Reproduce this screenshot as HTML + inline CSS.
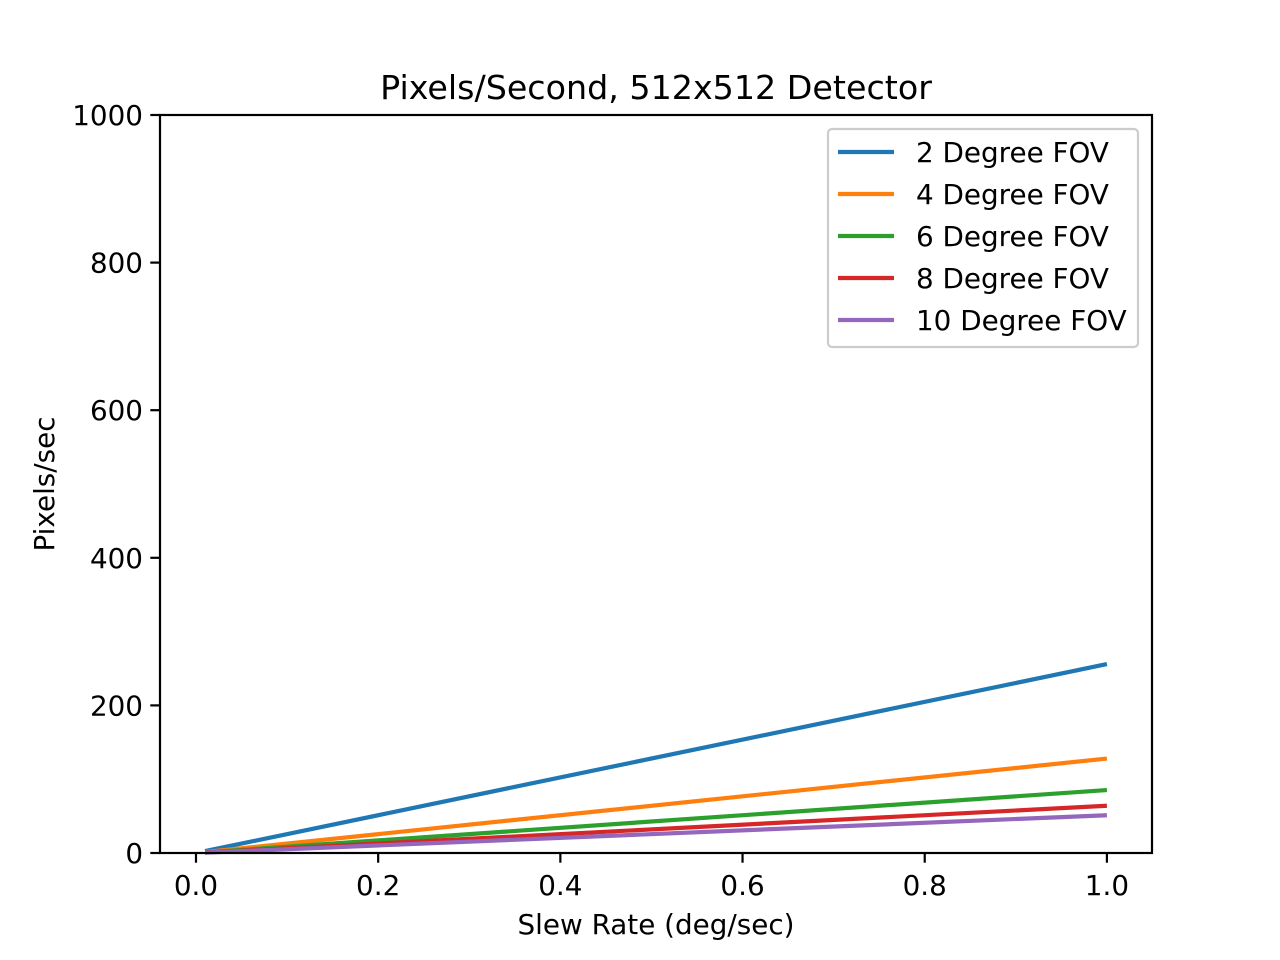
<!DOCTYPE html>
<html><head><meta charset="utf-8"><style>
html,body{margin:0;padding:0;background:#fff}
svg{display:block;font-family:"DejaVu Sans","Liberation Sans",sans-serif}
</style></head><body>
<svg id="chart" width="1280" height="960" viewBox="0 0 1280 960">
<rect width="1280" height="960" fill="#fff"/>
<text x="656" y="99" text-anchor="middle" font-size="33.3">Pixels/Second, 512x512 Detector</text>
<g id="plot"></g>
<text x="656" y="934" text-anchor="middle" font-size="27.8">Slew Rate (deg/sec)</text>
<text transform="translate(54,484) rotate(-90)" text-anchor="middle" font-size="27.8">Pixels/sec</text>
</svg>
<script>
const xValues = [0.01, 1.0];
const seriesNames = ["2 Degree FOV","4 Degree FOV","6 Degree FOV","8 Degree FOV","10 Degree FOV"];
const series2 = [2.56, 256];
const series4 = [1.28, 128];
const series6 = [0.853, 85.3];
const series8 = [0.64, 64];
const series10 = [0.512, 51.2];
const xTicks = [0, 0.2, 0.4, 0.6, 0.8, 1.0];
const xTickLabels = ["0.0","0.2","0.4","0.6","0.8","1.0"];
const yTicks = [0, 200, 400, 600, 800, 1000];
const yTickLabels = ["0","200","400","600","800","1000"];

const colors = ["#1f77b4","#ff7f0e","#2ca02c","#d62728","#9467bd"];
const allSeries = [series2, series4, series6, series8, series10];
const L=160,R=1152,T=115,B=853;
const xMin=-0.0395,xMax=1.0495,yMin=0,yMax=1000;
const sx=v=>L+(v-xMin)/(xMax-xMin)*(R-L);
const sy=v=>B-(v-yMin)/(yMax-yMin)*(B-T);
const NS="http://www.w3.org/2000/svg";
const g=document.getElementById('plot');
function mk(tag,attrs,parent){const e=document.createElementNS(NS,tag);for(const k in attrs)e.setAttribute(k,attrs[k]);(parent||g).appendChild(e);return e;}

allSeries.forEach((s,i)=>{
  const pts=s.map((v,j)=>sx(xValues[j])+","+sy(v)).join(" ");
  const p=mk('polyline',{points:pts,fill:"none",stroke:colors[i],"stroke-width":4.2});
  
  
});

const frame=mk('rect',{x:L,y:T,width:R-L,height:B-T,fill:"none",stroke:"#000","stroke-width":2.2});



xTicks.forEach((v,i)=>{
  const x=sx(v);
  const t=mk('line',{x1:x,x2:x,y1:B,y2:B+9.7,stroke:"#000","stroke-width":2.2});
  
  
  const l=mk('text',{x:x,y:B+42,"text-anchor":"middle","font-size":27.8});
  l.textContent=xTickLabels[i];
  
  
});
yTicks.forEach((v,i)=>{
  const y=sy(v);
  const t=mk('line',{x1:L-9.7,x2:L,y1:y,y2:y,stroke:"#000","stroke-width":2.2});
  
  
  const l=mk('text',{x:L-17,y:y+10,"text-anchor":"end","font-size":27.8});
  l.textContent=yTickLabels[i];
  
  
});

const lg=mk('g',{});


mk('rect',{x:828,y:129,width:310,height:218,rx:4,fill:"#fff","fill-opacity":0.8,stroke:"#ccc","stroke-width":2.2},lg);
seriesNames.forEach((n,i)=>{
  const y=152+i*42;
  const e=mk('g',{},lg);
  
  
  mk('line',{x1:838,x2:894,y1:y,y2:y,stroke:colors[i],"stroke-width":4.2},e);
  const t=mk('text',{x:916,y:y+10,"font-size":27.8},e);
  t.textContent=n;
});
</script>
</body></html>
